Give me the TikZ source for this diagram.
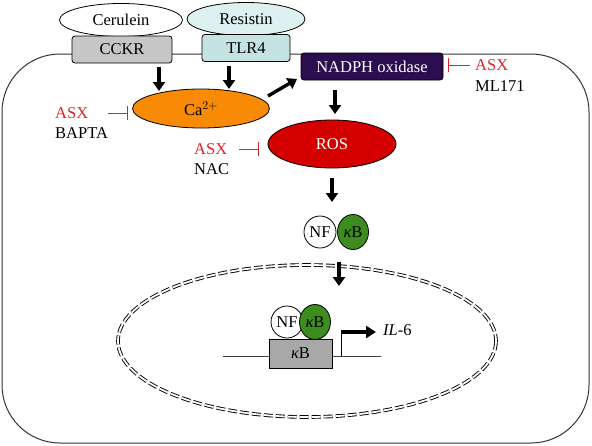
\documentclass[tikz,border=0pt]{standalone}
\usepackage{fontspec}
\setmainfont{Liberation Serif}
\usetikzlibrary{arrows.meta,shapes.geometric}
\definecolor{cckrgray}{HTML}{C6C6C6}
\definecolor{reslight}{HTML}{DDF1F1}
\definecolor{tlrcyan}{HTML}{C5E3E3}
\definecolor{nadph}{HTML}{2C0E50}
\definecolor{caorange}{HTML}{F88A05}
\definecolor{rosred}{HTML}{D40000}
\definecolor{kbgreen}{HTML}{3C8C1E}
\definecolor{genegray}{HTML}{A8A8A8}
\definecolor{asxred}{HTML}{E0202A}
\tikzset{
  lbl/.style={font=\fontsize{16.5}{19}\selectfont},
  ligand/.style={ellipse, draw=black, line width=0.8pt, minimum width=#1, minimum height=33pt, inner sep=0pt, lbl},
  receptor/.style={rectangle, rounded corners=3pt, draw=black, line width=0.8pt, minimum height=27pt, inner sep=0pt, lbl},
  blob/.style={ellipse, draw=black, line width=0.8pt, inner sep=0pt, lbl},
  fat/.style={line width=3.4pt, -{Triangle[length=9pt,width=12pt]}},
  inhib/.style={draw=asxred, line width=1pt, -{Bar[width=14pt,line width=1pt]}},
  asx/.style={lbl, text=asxred, anchor=west, inner sep=0pt},
  drug/.style={lbl, anchor=west, inner sep=0pt},
  nf/.style={circle, draw=black, line width=0.8pt, fill=white, minimum size=32pt, inner sep=0pt, lbl},
  kb/.style={ellipse, draw=black, line width=0.8pt, fill=kbgreen, minimum width=31pt, minimum height=35pt, inner sep=0pt, lbl}
}
\begin{document}
\begin{tikzpicture}[x=1pt,y=-1pt]
\useasboundingbox (0,0) rectangle (592,445);
% cell outline
\draw[line width=1pt, rounded corners=58pt, draw=black!80] (2,54) rectangle (589,443);
% nucleus
\draw[double=white, double distance=1.8pt, line width=0.9pt, dash pattern=on 9pt off 3pt] (307,341) ellipse [x radius=189, y radius=76];
% ligands and receptors
\node[ligand=123pt] (cer) at (121,20) {Cerulein};
\node[ligand=118pt, fill=reslight] (res) at (246,19) {Resistin};
\node[receptor, fill=cckrgray, minimum width=100pt] (cckr) at (122,49.5) {CCKR};
\node[receptor, fill=tlrcyan, minimum width=88pt] (tlr) at (246,48) {TLR4};
\node[receptor, fill=nadph, text=white, minimum width=142pt, minimum height=27pt] (nox) at (372,66.5) {NADPH oxidase};
% Ca, ROS
\node[blob, fill=caorange, minimum width=137pt, minimum height=39pt] (ca) at (201,108.5) {Ca$^{2+}$};
\node[blob, fill=rosred, text=white, minimum width=128pt, minimum height=48pt] (ros) at (332,144) {ROS};
% NF-kB cytoplasm
\node[nf] (nf1) at (320,232) {NF};
\node[kb] (kb1) at (353,232) {{\itshape κ}B};
% gene
\coordinate (gl) at (223,356);
\coordinate (gr) at (381,356);
\draw[line width=0.8pt, draw=black!75] (gl) -- (gr);
\node[rectangle, draw=black, line width=1pt, fill=genegray, minimum width=63pt, minimum height=29pt, inner sep=0pt, lbl] (kbbox) at (300.5,353.5) {{\itshape κ}B};
\node[nf] (nf2) at (287,322) {NF};
\node[kb] (kb2) at (315,322) {{\itshape κ}B};
\coordinate (prom) at (341,356);
\coordinate (promtop) at (341,332);
\coordinate (promend) at (376,332);
\draw[line width=0.8pt] (prom) -- (promtop);
\draw[line width=3.4pt, -{Triangle[length=10pt,width=12pt]}] (promtop) -- (promend);
\node[lbl, anchor=west, inner sep=0pt] (il6) at (383,330) {\textit{IL}-6};
% arrows
\draw[fat] (159,67) -- (159,91);
\draw[fat] (229,66) -- (229,89);
\draw[fat] (268,96) -- (297,79);
\draw[fat] (335,90) -- (335,114);
\draw[fat] (332,178) -- (332,202);
\draw[fat] (339,262) -- (339,286);
% inhibitors
\node[asx] (asx1) at (55,113) {ASX};
\node[drug] (bapta) at (55,133) {BAPTA};
\draw[inhib] (108,113) -- (128,113);
\node[asx] (asx2) at (194,149) {ASX};
\node[drug] (nac) at (194,169) {NAC};
\draw[inhib] (239,149) -- (259,149);
\node[asx] (asx3) at (475,65) {ASX};
\node[drug] (ml) at (475,86) {ML171};
\draw[inhib] (470,65) -- (448,65);
\end{tikzpicture}
\end{document}
